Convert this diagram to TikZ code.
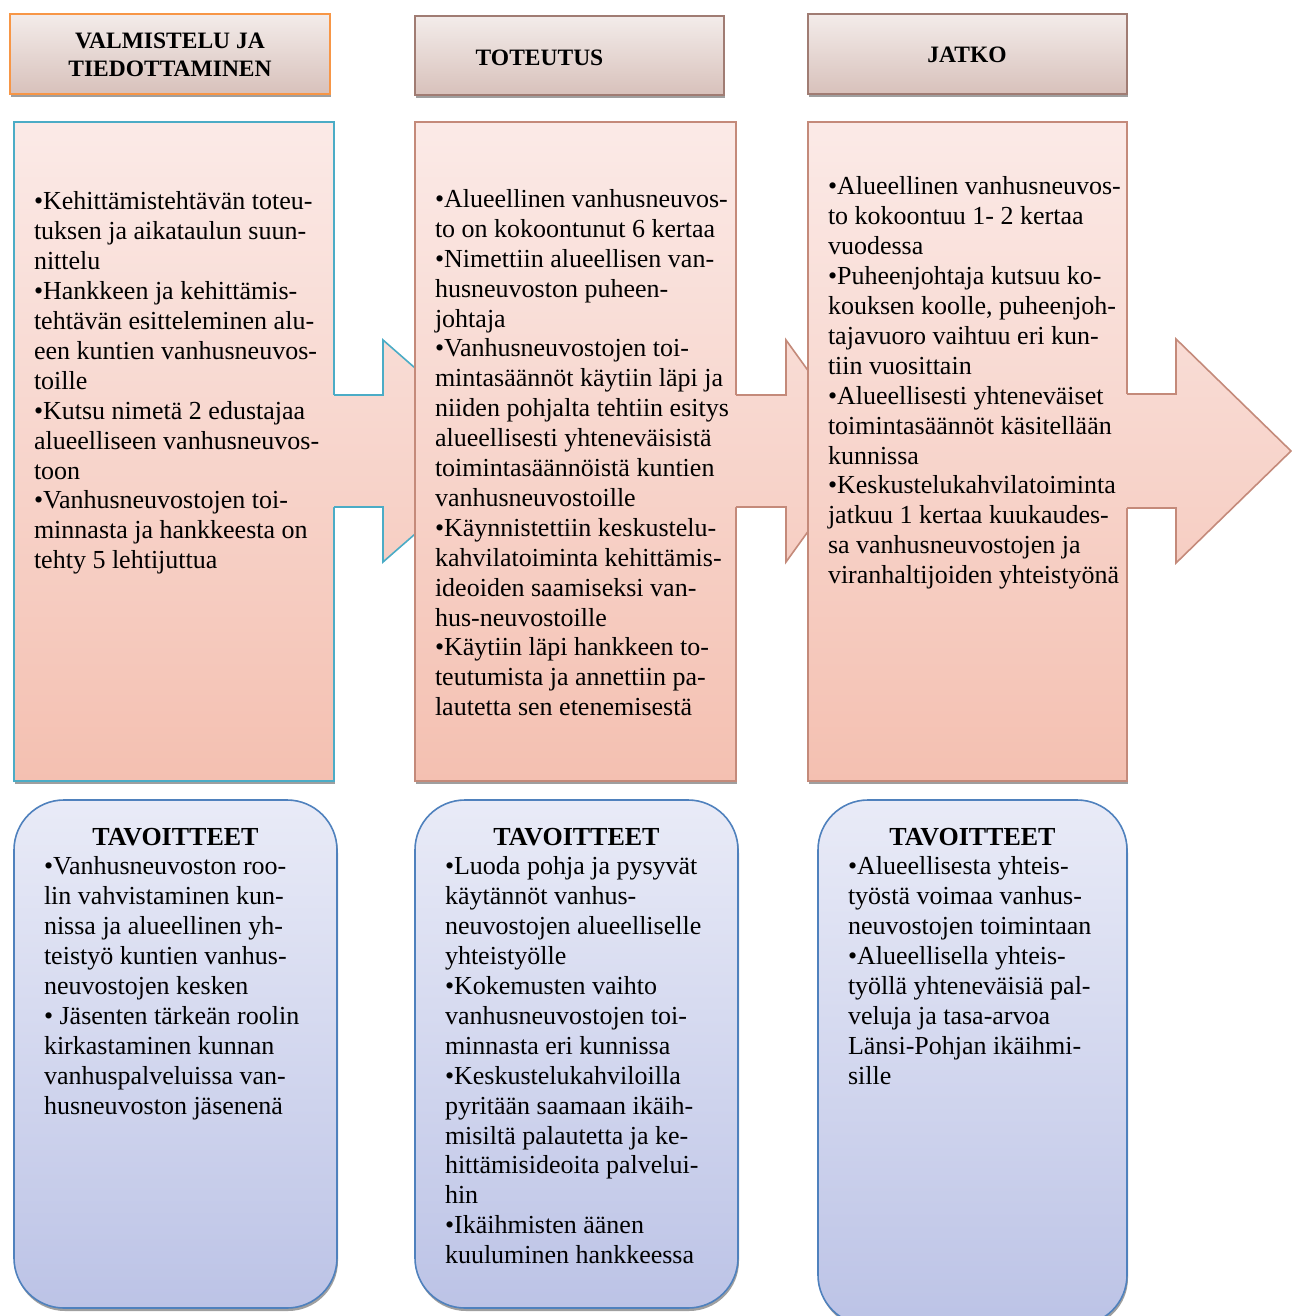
\documentclass[tikz,border=0pt]{standalone}
\usepackage{fontspec}
\setmainfont{Liberation Serif}
\usetikzlibrary{shadows}
\definecolor{hdrtop}{RGB}{243,236,234}
\definecolor{hdrbot}{RGB}{216,193,187}
\definecolor{orangeb}{RGB}{247,150,70}
\definecolor{brownb}{RGB}{160,124,115}
\definecolor{pinktop}{RGB}{251,234,231}
\definecolor{pinkbot}{RGB}{244,192,177}
\definecolor{pinkb}{RGB}{196,138,122}
\definecolor{tealb}{RGB}{75,172,198}
\definecolor{bluetop}{RGB}{233,235,247}
\definecolor{bluebot}{RGB}{188,195,230}
\definecolor{blueb}{RGB}{79,129,189}
\begin{document}
\begin{tikzpicture}[x=1pt,y=-1pt,
  boxbase/.style={rectangle, inner sep=0pt, outer sep=0pt, anchor=north west, line width=1.6pt,
    drop shadow={shadow xshift=1pt, shadow yshift=-3pt, fill=gray, opacity=0.75}},
  hdrbox/.style={boxbase, top color=hdrtop, bottom color=hdrbot},
  contbox/.style={boxbase, top color=pinktop, bottom color=pinkbot},
  goalbox/.style={boxbase, rounded corners=50pt, top color=bluetop, bottom color=bluebot, draw=blueb},
  arrowline/.style={line width=1.6pt, line join=miter},
  hdrtext/.style={inner sep=0pt, outer sep=0pt, align=center, font=\bfseries\fontsize{23.5}{28}\selectfont},
  bodytext/.style={anchor=north west, inner sep=0pt, outer sep=0pt, align=left, font=\fontsize{26}{29.9}\selectfont},
  goalhead/.style={anchor=base, inner sep=0pt, outer sep=0pt, font=\bfseries\fontsize{26}{29.9}\selectfont}
]
\useasboundingbox (0,0) rectangle (1291,1316);
\fill[white] (0,0) rectangle (1291,1316);

% headers
\node[hdrbox, draw=orangeb, minimum width=320pt, minimum height=80pt] (h1) at (10,14) {};
\node[hdrbox, draw=brownb, minimum width=309pt, minimum height=79pt] (h2) at (415,16) {};
\node[hdrbox, draw=brownb, minimum width=319pt, minimum height=80pt] (h3) at (808,14) {};

% content box 1 and arrow 1
\node[contbox, draw=tealb, minimum width=320pt, minimum height=659pt] (c1) at (14,122) {};
\begin{scope}
  \clip (325,395) -- (383,395) -- (383,340) -- (510,451) -- (383,562) -- (383,507) -- (325,507) -- cycle;
  \shade[top color=pinktop, bottom color=pinkbot] (320,122) rectangle (530,781);
\end{scope}
\draw[arrowline, draw=tealb] (334,395) -- (383,395) -- (383,340) -- (510,451) -- (383,562) -- (383,507) -- (334,507);

% content box 2 and arrow 2
\node[contbox, draw=pinkb, minimum width=321pt, minimum height=659pt] (c2) at (415,122) {};
\begin{scope}
  \clip (727,395) -- (786,395) -- (786,340) -- (866,451) -- (786,562) -- (786,507) -- (727,507) -- cycle;
  \shade[top color=pinktop, bottom color=pinkbot] (720,122) rectangle (880,781);
\end{scope}
\draw[arrowline, draw=pinkb] (736,395) -- (786,395) -- (786,340) -- (866,451) -- (786,562) -- (786,507) -- (736,507);

% content box 3 and arrow 3
\node[contbox, draw=pinkb, minimum width=319pt, minimum height=659pt] (c3) at (808,122) {};
\begin{scope}
  \clip (1118,394) -- (1176,394) -- (1176,339) -- (1291,451) -- (1176,563) -- (1176,508) -- (1118,508) -- cycle;
  \shade[top color=pinktop, bottom color=pinkbot] (1110,122) rectangle (1300,781);
\end{scope}
\draw[arrowline, draw=pinkb] (1127,394) -- (1176,394) -- (1176,339) -- (1291,451) -- (1176,563) -- (1176,508) -- (1127,508);

% goal boxes
\node[goalbox, minimum width=323pt, minimum height=508pt] (g1) at (14,800) {};
\node[goalbox, minimum width=323pt, minimum height=508pt] (g2) at (415,800) {};
\node[goalbox, minimum width=309pt, minimum height=525pt] (g3) at (818,800) {};

% header texts
\node[hdrtext, anchor=north] (t1) at (170,29.4) {\strut VALMISTELU JA\\TIEDOTTAMINEN};
\node[hdrtext, anchor=base] (t2) at (539.5,66) {TOTEUTUS};
\node[hdrtext, anchor=base] (t3) at (967,63) {JATKO};

% content texts
\node[bodytext] (b1) at (34,189) {\strut •Kehittämistehtävän toteu-\\
tuksen ja aikataulun suun-\\
nittelu\\
•Hankkeen ja kehittämis-\\
tehtävän esitteleminen alu-\\
een kuntien vanhusneuvos-\\
toille\\
•Kutsu nimetä 2 edustajaa\\
alueelliseen vanhusneuvos-\\
toon\\
•Vanhusneuvostojen toi-\\
minnasta ja hankkeesta on\\
tehty 5 lehtijuttua};

\node[bodytext] (b2) at (435,186.5) {\strut •Alueellinen vanhusneuvos-\\
to on kokoontunut 6 kertaa\\
•Nimettiin alueellisen van-\\
husneuvoston puheen-\\
johtaja\\
•Vanhusneuvostojen toi-\\
mintasäännöt käytiin läpi ja\\
niiden pohjalta tehtiin esitys\\
alueellisesti yhteneväisistä\\
toimintasäännöistä kuntien\\
vanhusneuvostoille\\
•Käynnistettiin keskustelu-\\
kahvilatoiminta kehittämis-\\
ideoiden saamiseksi van-\\
hus-neuvostoille\\
•Käytiin läpi hankkeen to-\\
teutumista ja annettiin pa-\\
lautetta sen etenemisestä};

\node[bodytext] (b3) at (828,174) {\strut •Alueellinen vanhusneuvos-\\
to kokoontuu 1- 2 kertaa\\
vuodessa\\
•Puheenjohtaja kutsuu ko-\\
kouksen koolle, puheenjoh-\\
tajavuoro vaihtuu eri kun-\\
tiin vuosittain\\
•Alueellisesti yhteneväiset\\
toimintasäännöt käsitellään\\
kunnissa\\
•Keskustelukahvilatoiminta\\
jatkuu 1 kertaa kuukaudes-\\
sa vanhusneuvostojen ja\\
viranhaltijoiden yhteistyönä};

% goal texts
\node[goalhead] (gh1) at (175.5,845) {TAVOITTEET};
\node[goalhead] (gh2) at (576.5,845) {TAVOITTEET};
\node[goalhead] (gh3) at (972.5,845) {TAVOITTEET};

\node[bodytext] (gb1) at (44,854) {\strut •Vanhusneuvoston roo-\\
lin vahvistaminen kun-\\
nissa ja alueellinen yh-\\
teistyö kuntien vanhus-\\
neuvostojen kesken\\
• Jäsenten tärkeän roolin\\
kirkastaminen kunnan\\
vanhuspalveluissa van-\\
husneuvoston jäsenenä};

\node[bodytext] (gb2) at (445,854) {\strut •Luoda pohja ja pysyvät\\
käytännöt vanhus-\\
neuvostojen alueelliselle\\
yhteistyölle\\
•Kokemusten vaihto\\
vanhusneuvostojen toi-\\
minnasta eri kunnissa\\
•Keskustelukahviloilla\\
pyritään saamaan ikäih-\\
misiltä palautetta ja ke-\\
hittämisideoita palvelui-\\
hin\\
•Ikäihmisten äänen\\
kuuluminen hankkeessa};

\node[bodytext] (gb3) at (848,854) {\strut •Alueellisesta yhteis-\\
työstä voimaa vanhus-\\
neuvostojen toimintaan\\
•Alueellisella yhteis-\\
työllä yhteneväisiä pal-\\
veluja ja tasa-arvoa\\
Länsi-Pohjan ikäihmi-\\
sille};
\end{tikzpicture}
\end{document}
